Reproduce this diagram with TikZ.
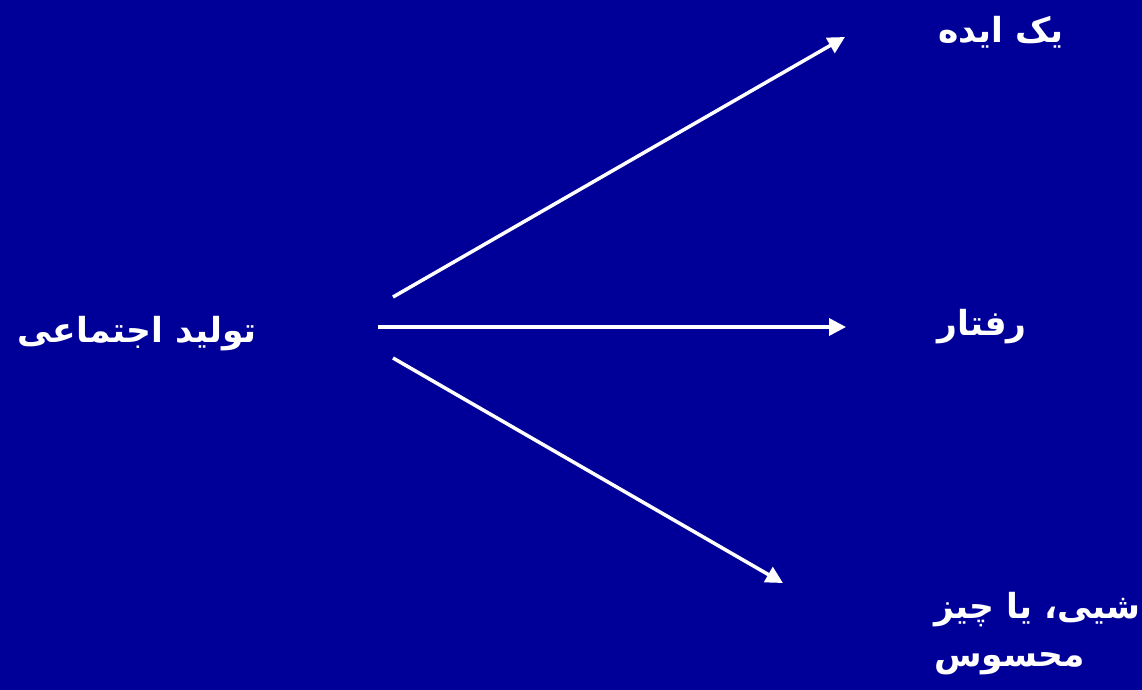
\documentclass[tikz,border=0pt]{standalone}
\usepackage{fontspec}
\usetikzlibrary{arrows.meta}
\TeXXeTstate=1
\newfontfamily\arabicfont[Script=Arabic]{DejaVu Sans}
\definecolor{bgblue}{HTML}{000099}
\tikzset{
  lbl/.style={text=white, font=\arabicfont\bfseries\fontsize{34.5}{48}\selectfont, inner sep=0pt},
  arr/.style={draw=white, line width=3.5pt, -{Triangle[length=17pt,width=17pt]}}
}
\begin{document}
\begin{tikzpicture}[x=1pt,y=-1pt]
\fill[bgblue] (0,0) rectangle (1142,690);
\useasboundingbox (0,0) rectangle (1142,690);
\node[lbl, anchor=east] (src) at (257,334) {\beginR تولید اجتماعی\endR};
\node[lbl, anchor=west] (t1) at (938,32) {\beginR یک ایده\endR};
\node[lbl, anchor=west] (t2) at (937,327) {\beginR رفتار\endR};
\node[lbl, anchor=north west, align=left] (t3) at (934,592) {\beginR شیی، یا چیز\endR\\\beginR محسوس\endR};
\coordinate (s1) at (393,297);
\coordinate (s2) at (378,327);
\coordinate (s3) at (393,358);
\coordinate (e1) at (845,37);
\coordinate (e2) at (846,327);
\coordinate (e3) at (783,583);
\draw[arr] (s1) -- (e1);
\draw[arr] (s2) -- (e2);
\draw[arr] (s3) -- (e3);
\end{tikzpicture}
\end{document}
